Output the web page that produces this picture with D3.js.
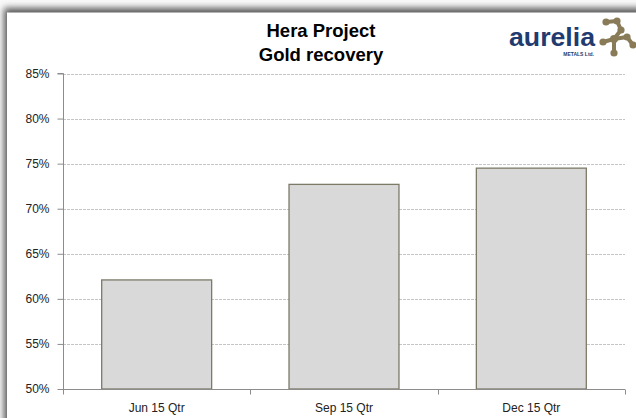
<!DOCTYPE html>
<html>
<head>
<meta charset="utf-8">
<script src="https://cdn.jsdelivr.net/npm/d3@7"></script>
<style>
  html, body { margin: 0; padding: 0; background: #fff; }
  svg { display: block; }
</style>
</head>
<body>
<svg id="chart"></svg>
<script>
// chart data
const categories = ['Jun 15 Qtr', 'Sep 15 Qtr', 'Dec 15 Qtr'];
const recovery = [62.1, 72.7, 74.5];
const yTicks = [50, 55, 60, 65, 70, 75, 80, 85];
const titleLines = ['Hera Project', 'Gold recovery'];

const width = 636;
const height = 418;
const margin = { top: 73.5, right: 11, bottom: 29, left: 63 };

const svg = d3.select('#chart')
  .attr('width', width)
  .attr('height', height);

// soft shadow round the chart frame
const defs = svg.append('defs');
const blur = defs.append('filter')
  .attr('id', 'shadow')
  .attr('x', '-10%').attr('y', '-10%')
  .attr('width', '120%').attr('height', '120%');
blur.append('feGaussianBlur').attr('stdDeviation', 3.5);

svg.append('rect')
  .attr('width', width).attr('height', height)
  .attr('fill', '#fafafa');
svg.append('rect')
  .attr('x', 4).attr('y', 8)
  .attr('width', width + 20).attr('height', height + 20)
  .attr('fill', '#555')
  .attr('filter', 'url(#shadow)');
svg.append('rect')
  .attr('x', 7).attr('y', 12.5)
  .attr('width', width).attr('height', height)
  .attr('fill', '#fff');

const x = d3.scaleBand()
  .domain(categories)
  .range([margin.left, width - margin.right])
  .paddingInner(0.413)
  .paddingOuter(0.2065);

const y = d3.scaleLinear()
  .domain([50, 85])
  .range([height - margin.bottom, margin.top]);

// gridlines
svg.append('g')
  .selectAll('line')
  .data(yTicks.slice(1))
  .enter()
  .append('line')
  .attr('x1', margin.left)
  .attr('x2', width - margin.right)
  .attr('y1', d => Math.round(y(d)) + 0.5)
  .attr('y2', d => Math.round(y(d)) + 0.5)
  .attr('stroke', '#c4c4c4')
  .attr('stroke-width', 1)
  .attr('stroke-dasharray', '3,1');

// bars
svg.append('g')
  .selectAll('rect')
  .data(recovery)
  .enter()
  .append('rect')
  .attr('x', (d, i) => x(categories[i]))
  .attr('y', d => y(d))
  .attr('width', x.bandwidth())
  .attr('height', d => y(50) - y(d))
  .attr('fill', '#d9d9d9')
  .attr('stroke', '#7d7a68')
  .attr('stroke-width', 1.3);

// y axis
const yAxis = svg.append('g')
  .attr('transform', `translate(${margin.left + 0.5},0)`)
  .call(d3.axisLeft(y)
    .tickValues(yTicks)
    .tickSize(6)
    .tickPadding(8)
    .tickFormat(d => d + '%'));

// x axis, ticks sit on category boundaries
const step = x.step();
const bounds = d3.range(categories.length + 1).map(i => margin.left + i * step);
const xAxis = svg.append('g')
  .attr('transform', `translate(0,${y(50) + 0.5})`);
xAxis.append('line')
  .attr('x1', margin.left).attr('x2', width - margin.right)
  .attr('stroke', '#8c8c8c');
xAxis.selectAll('line.tick')
  .data(bounds)
  .enter()
  .append('line')
  .attr('class', 'tick')
  .attr('x1', d => Math.round(d) + 0.5).attr('x2', d => Math.round(d) + 0.5)
  .attr('y1', 0).attr('y2', 5)
  .attr('stroke', '#8c8c8c');
xAxis.selectAll('text')
  .data(categories)
  .enter()
  .append('text')
  .attr('x', d => x(d) + x.bandwidth() / 2)
  .attr('y', 22)
  .attr('text-anchor', 'middle')
  .attr('font-family', 'Liberation Sans, Arial, sans-serif')
  .attr('font-size', 12)
  .attr('fill', '#222')
  .text(d => d);

yAxis.select('.domain').attr('stroke', '#8c8c8c');
yAxis.selectAll('.tick line').attr('stroke', '#8c8c8c');
yAxis.selectAll('.tick text')
  .attr('font-family', 'Liberation Sans, Arial, sans-serif')
  .attr('font-size', 12)
  .attr('fill', '#222');
yAxis.select('.domain').attr('d', `M-6,${y(85)}H0V${y(50)}`);

// title
svg.append('g')
  .selectAll('text')
  .data(titleLines)
  .enter()
  .append('text')
  .attr('x', 321)
  .attr('y', (d, i) => 37 + i * 24)
  .attr('text-anchor', 'middle')
  .attr('font-family', 'Liberation Sans, Arial, sans-serif')
  .attr('font-weight', 'bold')
  .attr('font-size', 18.5)
  .attr('fill', '#000')
  .text(d => d);

// logo
const logo = svg.append('g');
logo.append('text')
  .attr('x', 509).attr('y', 46)
  .attr('font-family', 'Liberation Sans, Arial, sans-serif')
  .attr('font-weight', 'bold')
  .attr('font-size', 26)
  .attr('textLength', 86)
  .attr('lengthAdjust', 'spacingAndGlyphs')
  .attr('fill', '#1f3b6f')
  .text('aurelia');
logo.append('text')
  .attr('x', 594).attr('y', 56)
  .attr('text-anchor', 'end')
  .attr('font-family', 'Liberation Sans, Arial, sans-serif')
  .attr('font-weight', 'bold')
  .attr('font-size', 5)
  .attr('fill', '#1f3b6f')
  .text('METALS Ltd.');

const nodes = [[606, 22], [617, 21], [621, 30], [614, 39], [603, 42], [627, 37], [633, 45], [614, 53]];
const links = [[0, 1], [1, 2], [2, 3], [3, 4], [3, 5], [5, 6], [3, 7]];
logo.selectAll('line')
  .data(links)
  .enter()
  .append('line')
  .attr('x1', d => nodes[d[0]][0]).attr('y1', d => nodes[d[0]][1])
  .attr('x2', d => nodes[d[1]][0]).attr('y2', d => nodes[d[1]][1])
  .attr('stroke', '#8a7b58')
  .attr('stroke-width', 4);
logo.selectAll('circle')
  .data(nodes)
  .enter()
  .append('circle')
  .attr('cx', d => d[0]).attr('cy', d => d[1])
  .attr('r', (d, i) => i === 3 ? 4 : 3.6)
  .attr('fill', '#8a7b58');
</script>
</body>
</html>
